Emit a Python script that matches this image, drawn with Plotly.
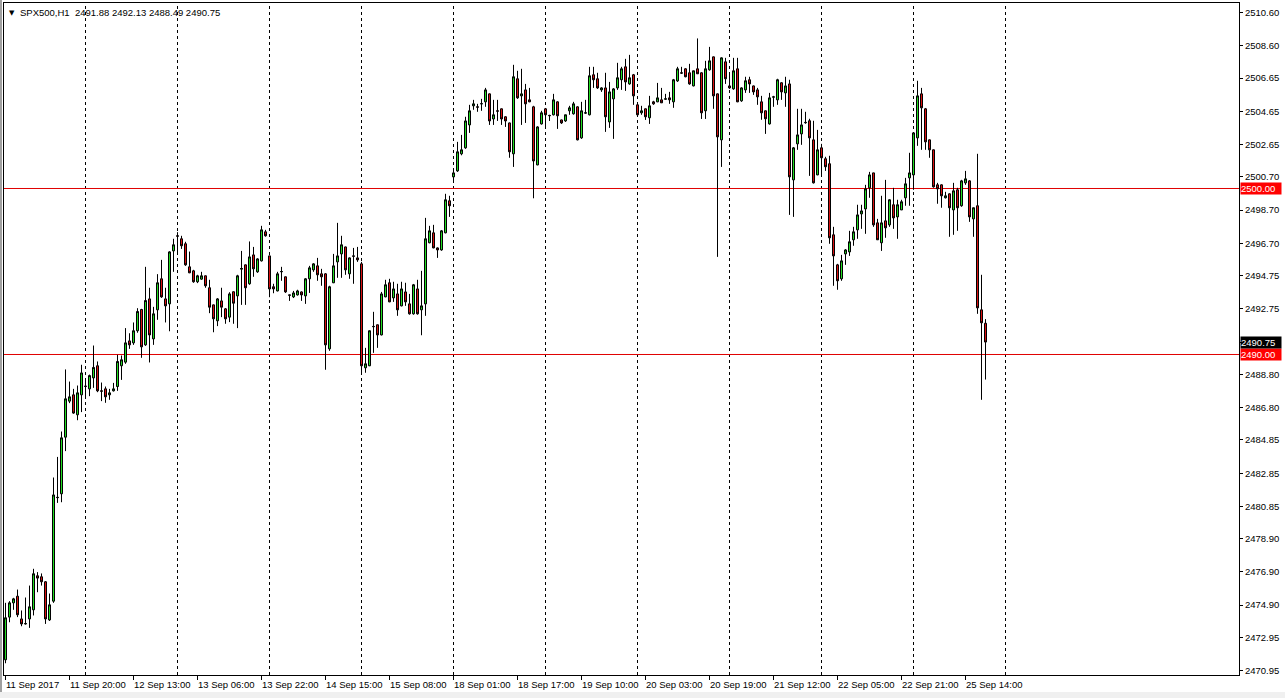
import plotly.graph_objects as go

# ---------------- data (SPX500, H1) ----------------
opens = [
 2471.61,2474.18,2475.04,2475.44,2474.07,2473.77,2474.07,2474.62,2476.67,2476.61,
 2476.31,2474.01,2475.14,2481.40,2481.61,2485.02,2487.19,2487.57,2486.37,2487.57,
 2488.07,2487.93,2488.59,2489.32,2487.81,2487.93,2487.57,2487.81,2488.07,2489.32,
 2489.54,2490.82,2490.70,2491.43,2492.71,2490.58,2493.35,2490.94,2492.69,2494.56,
 2493.35,2493.05,2496.24,2497.15,2496.97,2496.67,2495.28,2495.04,2494.38,2494.54,
 2494.74,2494.02,2492.99,2492.03,2493.23,2492.75,2492.25,2493.78,2493.53,2495.14,
 2495.40,2494.26,2496.00,2494.98,2495.64,2497.39,2495.94,2494.08,2493.83,2494.98,
 2494.68,2493.59,2493.47,2493.59,2493.77,2493.53,2494.56,2495.10,2495.34,2494.86,
 2494.86,2490.34,2494.32,2495.58,2496.06,2496.48,2494.86,2495.94,2495.82,2495.46,
 2489.20,2489.32,2491.67,2491.79,2491.18,2493.47,2494.32,2493.41,2493.65,2492.93,
 2493.77,2493.05,2492.45,2493.95,2492.69,2493.05,2496.73,2497.33,2496.42,2496.30,
 2497.33,2499.26,2500.70,2501.06,2502.09,2502.45,2503.83,2504.98,2504.92,2505.10,
 2505.22,2505.70,2504.19,2504.68,2504.80,2504.32,2503.95,2502.09,2506.61,2505.58,
 2505.94,2505.34,2504.92,2501.42,2503.89,2504.80,2504.38,2504.44,2505.22,2504.13,
 2504.07,2504.68,2504.50,2504.92,2503.05,2504.54,2504.44,2506.85,2506.61,2505.94,
 2506.06,2504.01,2505.40,2506.06,2506.55,2507.33,2506.30,2506.85,2505.04,2504.56,
 2504.80,2504.26,2505.22,2505.22,2505.34,2505.38,2505.46,2505.22,2506.48,2506.97,
 2507.21,2506.97,2506.18,2507.21,2506.97,2504.68,2507.15,2507.93,2505.70,2502.93,
 2507.63,2506.18,2506.00,2507.21,2505.28,2505.94,2506.55,2506.18,2505.94,2505.22,
 2504.68,2503.89,2505.50,2505.34,2506.37,2505.76,2506.30,2500.52,2502.69,2503.29,
 2503.96,2504.08,2502.93,2500.82,2502.45,2501.79,2501.49,2497.21,2495.40,2494.56,
 2496.06,2496.18,2496.91,2497.51,2498.47,2498.77,2500.04,2500.94,2497.93,2496.73,
 2498.05,2497.81,2499.02,2498.29,2498.71,2499.44,2500.64,2500.82,2503.05,2505.70,
 2504.80,2502.93,2502.33,2500.22,2500.22,2499.44,2499.68,2498.71,2499.92,2498.96,
 2500.34,2500.46,2498.17,2498.96,2492.69,2491.88]
highs = [
 2475.04,2475.14,2475.34,2475.84,2474.58,2475.36,2476.08,2477.09,2476.89,2476.81,
 2476.35,2475.60,2482.59,2483.83,2485.36,2489.10,2488.37,2487.93,2488.13,2489.38,
 2488.53,2488.79,2490.54,2489.58,2488.31,2488.07,2487.93,2488.29,2489.98,2489.94,
 2491.59,2491.28,2491.93,2492.79,2492.75,2495.28,2494.02,2492.87,2494.84,2495.70,
 2494.02,2496.22,2496.97,2497.37,2497.15,2496.79,2496.20,2495.10,2494.80,2494.98,
 2494.76,2494.50,2493.00,2493.40,2494.02,2492.80,2493.75,2493.80,2494.80,2496.24,
 2495.42,2496.81,2496.48,2495.80,2497.75,2497.51,2495.95,2494.26,2494.98,2495.28,
 2494.70,2493.60,2493.83,2493.90,2493.80,2494.60,2495.34,2495.50,2495.82,2495.16,
 2494.90,2494.14,2496.06,2497.93,2497.15,2496.50,2495.85,2496.42,2496.48,2495.58,
 2490.40,2491.45,2492.57,2491.80,2493.77,2494.50,2494.56,2494.38,2494.26,2494.38,
 2494.32,2493.65,2494.25,2494.50,2495.04,2498.23,2497.75,2497.81,2496.45,2497.50,
 2499.68,2499.56,2501.18,2502.81,2503.23,2504.32,2505.04,2505.34,2505.10,2505.40,
 2506.06,2505.72,2505.34,2505.34,2504.82,2504.35,2503.97,2507.45,2507.09,2507.21,
 2506.30,2506.06,2504.98,2503.75,2504.68,2504.85,2504.44,2505.70,2505.25,2504.15,
 2504.45,2504.98,2505.22,2504.95,2505.22,2505.34,2507.33,2507.33,2506.97,2506.10,
 2506.97,2506.42,2506.05,2507.57,2507.33,2507.81,2508.05,2506.90,2505.05,2504.98,
 2504.82,2505.58,2505.28,2506.36,2506.06,2505.70,2505.82,2506.60,2507.33,2507.33,
 2507.25,2507.51,2507.10,2509.04,2507.00,2507.69,2508.53,2507.95,2505.72,2507.90,
 2507.87,2506.90,2507.87,2507.87,2506.10,2506.73,2506.73,2506.20,2506.06,2505.58,
 2504.70,2505.76,2505.58,2506.61,2506.40,2506.73,2506.55,2502.50,2504.80,2504.80,
 2504.62,2504.20,2504.08,2503.53,2502.69,2501.91,2501.97,2497.69,2495.46,2496.00,
 2496.35,2497.45,2497.69,2499.02,2499.02,2500.22,2501.00,2500.95,2498.17,2499.56,
 2500.52,2499.35,2500.04,2499.32,2499.32,2500.64,2502.15,2503.40,2506.49,2506.06,
 2504.85,2502.95,2502.35,2500.34,2500.25,2499.80,2499.70,2500.34,2500.04,2500.52,
 2501.06,2500.50,2498.85,2502.09,2494.80,2492.13]
lows = [
 2471.40,2473.87,2474.62,2474.18,2473.63,2473.73,2473.53,2474.28,2475.68,2476.08,
 2473.77,2473.95,2475.04,2481.06,2481.10,2484.18,2487.07,2486.43,2486.04,2486.53,
 2487.43,2487.49,2487.99,2487.73,2487.19,2487.09,2487.27,2487.77,2487.81,2488.47,
 2489.44,2490.34,2490.58,2491.31,2489.80,2490.52,2489.52,2490.58,2492.09,2493.41,
 2491.93,2491.40,2494.98,2496.12,2496.36,2495.34,2494.90,2494.32,2494.30,2494.50,
 2494.02,2492.49,2491.34,2491.71,2492.25,2491.85,2491.95,2491.85,2491.59,2492.99,
 2492.99,2494.20,2494.68,2494.92,2495.60,2497.10,2493.45,2493.69,2493.80,2494.44,
 2493.71,2493.23,2493.40,2493.55,2493.23,2493.05,2493.71,2494.98,2494.44,2494.14,
 2489.08,2490.22,2494.30,2494.62,2494.62,2494.80,2494.56,2494.26,2495.58,2488.90,
 2488.90,2489.30,2490.10,2490.40,2491.15,2493.45,2493.15,2493.17,2492.33,2492.90,
 2492.93,2492.40,2492.40,2492.40,2491.16,2492.33,2496.70,2496.40,2495.82,2496.25,
 2497.30,2498.29,2500.34,2501.00,2502.00,2502.39,2503.35,2504.74,2504.62,2504.68,
 2504.92,2503.83,2503.83,2504.07,2503.83,2503.71,2501.85,2501.30,2505.40,2503.83,
 2503.95,2505.20,2499.41,2501.40,2503.85,2503.71,2504.07,2504.40,2503.59,2503.89,
 2504.01,2504.44,2504.45,2502.90,2502.99,2504.50,2504.40,2506.06,2506.00,2505.82,
 2503.41,2503.65,2502.99,2505.94,2505.94,2505.88,2506.25,2505.04,2504.38,2504.44,
 2504.13,2503.89,2505.04,2505.20,2505.15,2505.34,2505.10,2504.86,2506.42,2506.90,
 2506.70,2506.25,2506.15,2506.90,2504.19,2504.19,2507.10,2504.80,2495.88,2501.30,
 2506.30,2506.00,2505.95,2505.20,2505.22,2505.76,2505.76,2505.64,2505.04,2504.14,
 2503.29,2503.85,2504.92,2505.04,2505.34,2504.92,2498.41,2498.29,2502.33,2502.63,
 2503.90,2500.76,2500.30,2500.80,2500.70,2501.06,2496.67,2494.14,2493.90,2494.44,
 2495.40,2495.94,2496.55,2496.97,2497.57,2497.27,2499.44,2497.69,2496.90,2496.24,
 2497.03,2497.69,2497.57,2496.97,2498.70,2498.96,2498.96,2499.92,2502.57,2502.33,
 2502.33,2501.85,2500.05,2499.08,2498.84,2499.40,2497.09,2497.21,2497.45,2498.90,
 2500.22,2497.99,2497.09,2492.45,2487.27,2488.49]
closes = [
 2474.14,2475.04,2475.28,2474.32,2473.77,2473.79,2474.80,2476.79,2476.53,2476.31,
 2474.07,2474.92,2481.54,2481.38,2484.98,2487.33,2487.45,2486.47,2487.69,2488.89,
 2488.09,2488.73,2489.22,2487.81,2487.79,2487.45,2487.69,2487.93,2489.58,2489.68,
 2490.70,2490.58,2491.43,2492.59,2490.46,2493.25,2491.18,2492.45,2494.32,2493.47,
 2492.93,2496.18,2496.61,2497.13,2496.55,2495.40,2494.92,2494.38,2494.74,2494.74,
 2494.14,2492.85,2492.15,2493.35,2492.85,2492.15,2493.65,2493.09,2494.74,2495.18,
 2494.02,2495.88,2495.16,2495.76,2497.51,2497.15,2493.95,2493.95,2494.86,2495.00,
 2493.77,2493.57,2493.71,2493.83,2493.59,2494.56,2495.22,2495.46,2494.80,2494.68,
 2490.58,2494.08,2495.34,2495.94,2496.61,2495.10,2495.82,2495.92,2495.70,2489.32,
 2489.44,2491.43,2491.69,2491.18,2493.65,2494.20,2493.17,2493.95,2492.69,2493.95,
 2493.17,2492.45,2494.20,2492.45,2492.93,2496.97,2497.45,2496.42,2496.30,2497.45,
 2499.32,2498.96,2500.94,2502.21,2502.33,2504.07,2504.68,2505.10,2504.90,2505.11,
 2505.94,2504.07,2504.44,2504.66,2504.19,2504.07,2502.21,2506.73,2505.46,2505.70,
 2505.10,2505.22,2501.66,2503.71,2504.56,2504.44,2504.40,2505.34,2504.38,2503.95,
 2504.44,2504.86,2505.10,2502.93,2504.68,2504.56,2506.79,2506.55,2506.06,2506.06,
 2504.32,2505.82,2506.00,2506.67,2507.21,2506.42,2506.67,2505.58,2504.44,2504.68,
 2504.32,2504.98,2505.10,2505.46,2505.16,2505.40,2505.34,2506.55,2507.21,2506.95,
 2506.73,2506.30,2507.09,2506.91,2504.56,2507.21,2507.69,2505.58,2503.11,2507.87,
 2506.61,2506.06,2507.09,2505.22,2506.06,2506.49,2506.30,2505.82,2505.52,2504.56,
 2504.20,2505.46,2505.52,2506.55,2505.82,2506.18,2500.70,2502.45,2503.23,2503.83,
 2503.98,2503.05,2500.34,2502.33,2501.85,2501.31,2497.03,2495.94,2494.44,2495.64,
 2496.30,2496.79,2497.39,2498.41,2498.65,2499.98,2500.82,2497.81,2496.91,2497.93,
 2497.63,2499.32,2498.23,2499.02,2499.20,2500.28,2500.94,2503.35,2505.58,2504.86,
 2502.81,2502.33,2500.10,2499.98,2499.56,2499.56,2498.84,2499.86,2498.84,2500.46,
 2500.58,2498.29,2498.84,2492.81,2491.91,2490.75]

time_labels = ["11 Sep 2017", "11 Sep 20:00", "12 Sep 13:00", "13 Sep 06:00",
               "13 Sep 22:00", "14 Sep 15:00", "15 Sep 08:00", "18 Sep 01:00",
               "18 Sep 17:00", "19 Sep 10:00", "20 Sep 03:00", "20 Sep 19:00",
               "21 Sep 12:00", "22 Sep 05:00", "22 Sep 21:00", "25 Sep 14:00"]
label_step = 16          # bars between time labels
price_ticks = [2510.60, 2508.60, 2506.65, 2504.65, 2502.65, 2500.70, 2498.70,
               2496.70, 2494.75, 2492.75, 2490.75, 2488.80, 2486.80, 2484.85,
               2482.85, 2480.85, 2478.90, 2476.90, 2474.90, 2472.95, 2470.95]
levels = [2500.00, 2490.00]           # horizontal level lines
symbol = "SPX500,H1"

# ---------------- figure ----------------
W, H = 1285, 698
ML, MR, MT, MB = 4, 46, 3, 23
FONT = "Liberation Sans, Arial, sans-serif"
FS = 9.5
PX_PER_BAR = 4.0
PX_PER_POINT = 16.6

bars = list(range(len(opens)))
label_bars = [i * label_step for i in range(len(time_labels))]
grid_bars = list(range(20, len(opens) + 10, 23))
last = closes[-1]

fig = go.Figure()
fig.add_trace(go.Candlestick(
    x=bars, open=opens, high=highs, low=lows, close=closes,
    increasing=dict(line=dict(color="black", width=1), fillcolor="#22dd22"),
    decreasing=dict(line=dict(color="black", width=1), fillcolor="#d81010"),
    whiskerwidth=0, hoverinfo="skip", showlegend=False,
))

shapes = []
for g in grid_bars:
    shapes.append(dict(type="line", xref="x", yref="paper", x0=g, x1=g, y0=0, y1=1,
                       line=dict(color="black", width=1, dash="3px,3px"), layer="below"))
for lv in levels:
    shapes.append(dict(type="line", xref="paper", yref="y", x0=0, x1=1, y0=lv, y1=lv,
                       line=dict(color="#e00000", width=1), layer="below"))

# window edge strips (pixel -> paper conversion)
pw = W - ML - MR
ph = H - MT - MB
def px_x(p):
    return (p - ML) / pw
def px_y(p):
    return (H - MB - p) / ph
shapes.append(dict(type="rect", xref="paper", yref="paper",
                   x0=px_x(0), x1=px_x(2), y0=px_y(H), y1=px_y(0),
                   fillcolor="#a0a0a0", line=dict(width=0), layer="below"))
shapes.append(dict(type="rect", xref="paper", yref="paper",
                   x0=px_x(0), x1=px_x(W), y0=px_y(H), y1=px_y(692),
                   fillcolor="#f0f0f0", line=dict(width=0), layer="below"))

annotations = []
for b, t in zip(label_bars, time_labels):
    annotations.append(dict(x=b, xref="x", y=0, yref="paper", text=t, showarrow=False,
                            xanchor="left", yanchor="top", xshift=-2, yshift=-2,
                            font=dict(family=FONT, size=FS, color="black")))
# header
annotations.append(dict(x=0, xref="paper", y=1, yref="paper", text="▼", showarrow=False,
                        xanchor="left", yanchor="top", xshift=3, yshift=-4,
                        font=dict(family="DejaVu Sans", size=7, color="black")))
header = f"{symbol}  {opens[-1]:.2f} {highs[-1]:.2f} {lows[-1]:.2f} {closes[-1]:.2f}"
annotations.append(dict(x=0, xref="paper", y=1, yref="paper", text=header, showarrow=False,
                        xanchor="left", yanchor="top", xshift=14, yshift=-2,
                        font=dict(family=FONT, size=FS, color="black")))
# price boxes on the axis
for lv in levels:
    annotations.append(dict(x=1, xref="paper", y=lv, yref="y", text=f"{lv:.2f}",
                            showarrow=False, xanchor="left", yanchor="middle", xshift=1,
                            bgcolor="#ff0000", width=40, height=11, align="left", borderpad=0,
                            font=dict(family=FONT, size=FS, color="white")))
annotations.append(dict(x=1, xref="paper", y=last, yref="y", text=f"{last:.2f}",
                        showarrow=False, xanchor="left", yanchor="middle", xshift=1,
                        bgcolor="black", width=40, height=11, align="left", borderpad=0,
                        font=dict(family=FONT, size=FS, color="white")))

# axis ranges: 4 px per bar, 16.6 px per point, bars centred on half pixels
top_price = 2511.355
ymin = top_price - (H - MB) / PX_PER_POINT
ymax = top_price - MT / PX_PER_POINT
xmin = -0.375
xmax = xmin + pw / PX_PER_BAR

# tick label hidden under the current-price box (as on the original)
tick_text = ["" if abs(v - last) < 1e-6 else f"{v:.2f}" for v in price_ticks]

fig.update_layout(
    width=W, height=H,
    margin=dict(l=ML, r=MR, t=MT, b=MB, pad=0),
    paper_bgcolor="white", plot_bgcolor="white",
    boxgap=0.5, boxgroupgap=0,
    shapes=shapes, annotations=annotations,
    showlegend=False,
    font=dict(family=FONT, size=FS, color="black"),
    xaxis=dict(range=[xmin, xmax], rangeslider=dict(visible=False),
               showgrid=False, zeroline=False,
               tickvals=label_bars, ticks="outside", ticklen=4, tickcolor="black",
               showticklabels=False,
               showline=True, linecolor="black", linewidth=1, mirror=True,
               fixedrange=True),
    yaxis=dict(range=[ymin, ymax], side="right", showgrid=False, zeroline=False,
               tickvals=price_ticks, ticktext=tick_text,
               ticks="outside", ticklen=3, tickcolor="black",
               ticklabeloverflow="allow",
               tickfont=dict(family=FONT, size=FS, color="black"),
               showline=True, linecolor="black", linewidth=1, mirror=True,
               fixedrange=True),
)

fig.write_html("out.html", config=dict(displayModeBar=False))

# remove the browser's default page margin so the figure sits at the window origin
with open("out.html", "r", encoding="utf-8") as f:
    html = f.read()
html = html.replace("<body>", '<body style="margin:0;padding:0;overflow:hidden">', 1)
with open("out.html", "w", encoding="utf-8") as f:
    f.write(html)
